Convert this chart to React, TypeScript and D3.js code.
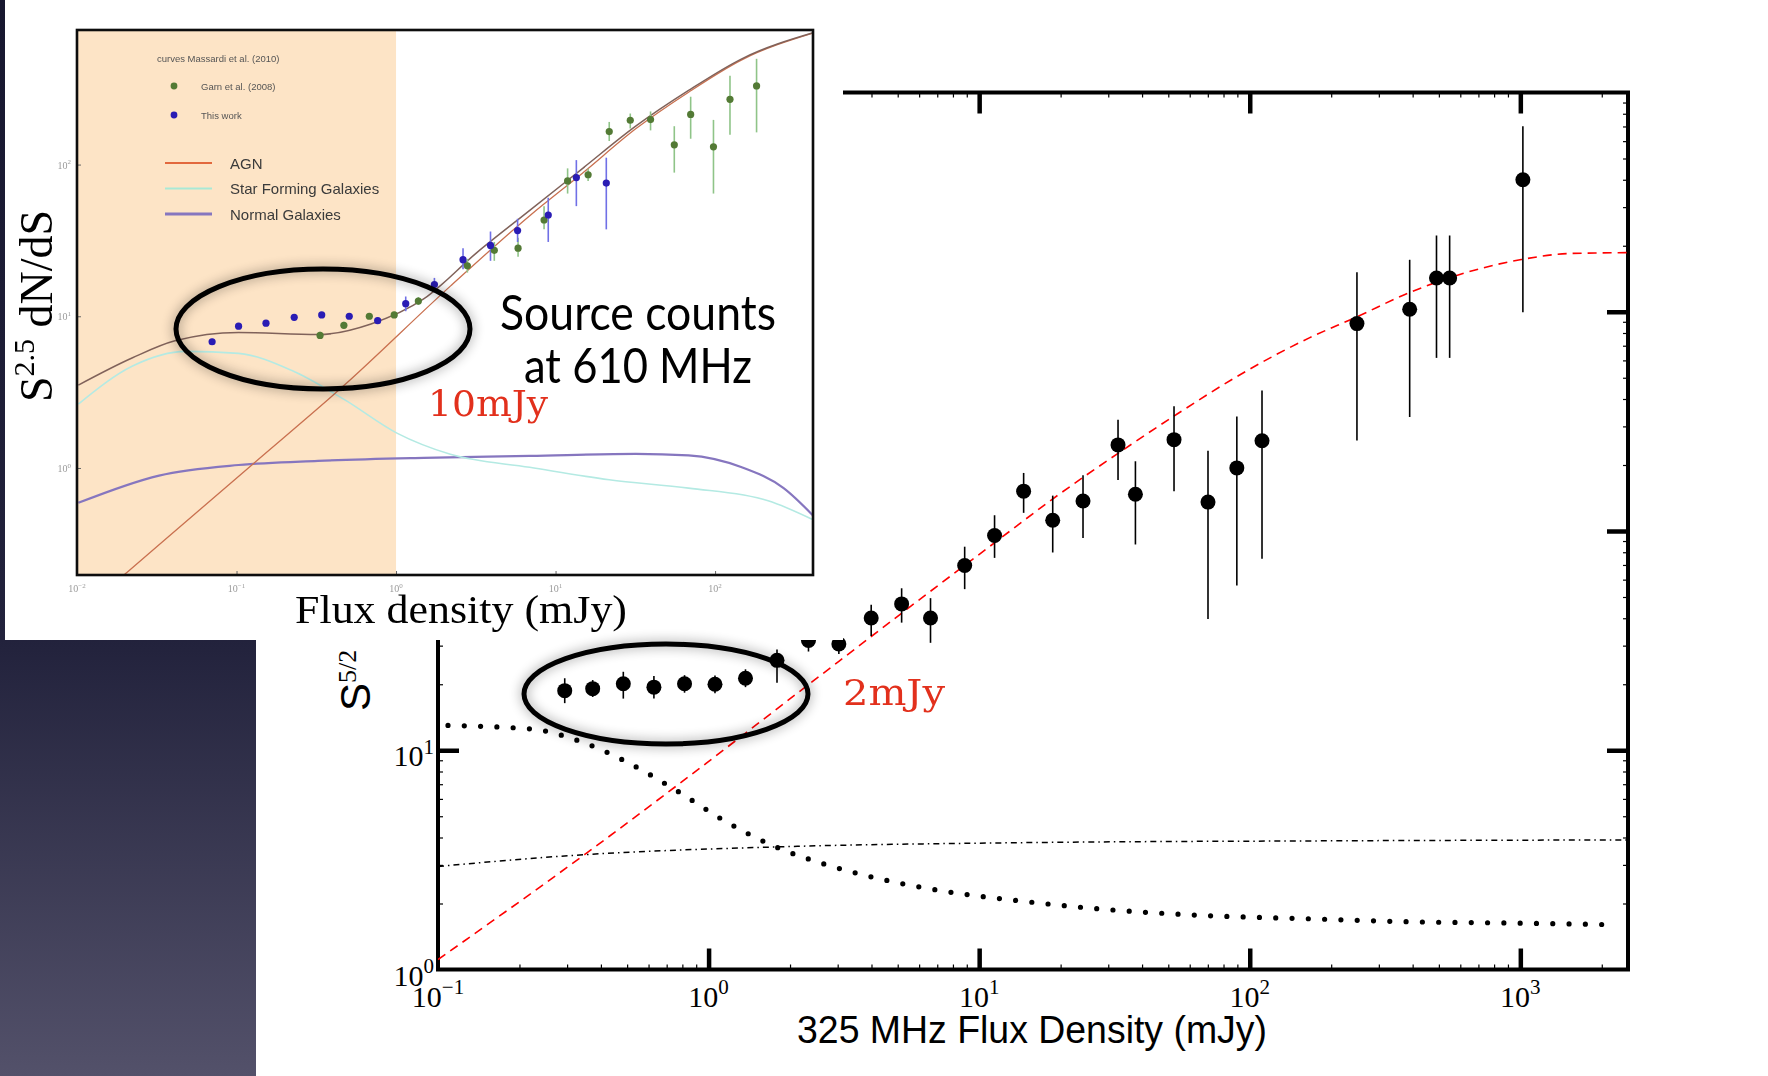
import React, { useEffect, useRef } from "react";
import * as d3 from "d3";

// ---- main panel: 325 MHz source counts (S^5/2 dN/dS) ----
const mainFlux = [0.294, 0.373, 0.484, 0.628, 0.815, 1.056, 1.369, 1.79, 2.34, 3.03, 3.99, 5.17, 6.61, 8.84, 11.4, 14.6, 18.7, 24.2, 32.6, 37.8, 52.5, 70.1, 89.6, 111, 249, 390, 490, 548, 1022];
const mainCounts = [18.7, 19.1, 20.1, 19.4, 20.1, 20.0, 21.3, 25.7, 31.7, 30.5, 40.1, 46.5, 40.1, 69.6, 95.4, 152, 112, 137, 247, 147, 261, 135.5, 194, 258, 883, 1027, 1425, 1425, 4000];
const mainErrLo = [16.4, 17.5, 17.2, 17.2, 18.3, 18.2, 19.4, 20.3, 28.2, 27.5, 33.2, 38.2, 30.9, 54.3, 75.4, 121, 79.8, 93, 171, 86.8, 152, 39.7, 56.4, 74.7, 259, 331, 616, 616, 996];
const mainErrHi = [21.3, 20.9, 22.8, 21.8, 22.0, 21.9, 23.4, 28.8, 35.5, 34.0, 46.1, 54.8, 49.4, 84.8, 118, 184, 145, 179.5, 322, 208, 371, 232, 333, 437, 1515, 1726, 2225, 2225, 7020];

// model curves in the main panel
const redFlux = [0.1, 0.35, 0.76, 2.3, 5.5, 11.9, 18.4, 32.6, 53, 95.5, 166, 249, 382, 523, 1009, 1528, 2500];
const redCounts = [1.11, 3.36, 6.87, 19.6, 44.7, 92, 138, 226, 337, 530, 760, 948, 1211, 1403, 1730, 1844, 1860];
const dotFlux = [0.1, 0.221, 0.334, 0.496, 0.748, 1.148, 1.73, 2.62, 4.02, 7.03, 13.9, 27.8, 63.4, 175, 398, 907, 2244];
const dotCounts = [13.0, 12.5, 11.0, 8.87, 6.64, 4.76, 3.67, 3.05, 2.64, 2.3, 2.06, 1.89, 1.77, 1.7, 1.65, 1.63, 1.6];
const dashFlux = [0.1, 0.334, 1.73, 14.8, 175, 2500];
const dashCounts = [2.95, 3.33, 3.62, 3.79, 3.86, 3.9];

const mainXTicks = [0.1, 1, 10, 100, 1000];
const mainXExp = ["\u22121", "0", "1", "2", "3"];
const mainYTicks = [1, 10, 100, 1000, 10000];
const mainYExp = ["0", "1", "2", "3", "4"];

// ---- inset: 610 MHz counts ----
const insetTotalFlux = [0.0102, 0.0223, 0.0411, 0.103, 0.324, 0.697, 1.49, 3.21, 6.89, 14.8, 31.8, 68.2, 147, 411];
const insetTotal = [3.52, 5.33, 6.89, 7.82, 7.57, 8.9, 13.0, 26.3, 49.9, 94.5, 179, 308, 498, 739];
const insetAgnFlux = [0.0199, 0.129, 0.475, 2.19, 6.89, 14.8, 31.8, 68.2, 147, 411];
const insetAgn = [0.199, 1.08, 3.52, 15.8, 46, 88, 172, 300, 490, 735];
const insetSfFlux = [0.0102, 0.0223, 0.048, 0.103, 0.221, 0.475, 1.02, 2.19, 6.89, 21.7, 68.2, 215, 411];
const insetSf = [2.64, 4.7, 5.87, 5.69, 4.4, 2.82, 1.69, 1.23, 1.01, 0.836, 0.736, 0.608, 0.456];
const insetNormFlux = [0.0102, 0.0327, 0.103, 0.324, 1.49, 6.89, 31.8, 68.2, 147, 269, 411];
const insetNorm = [0.589, 0.891, 1.046, 1.114, 1.166, 1.2, 1.24, 1.21, 1.01, 0.736, 0.486];

const blueFlux = [0.0703, 0.103, 0.153, 0.23, 0.342, 0.509, 0.767, 1.15, 1.74, 2.63, 3.91, 5.78, 9.0, 13.5, 20.8];
const blueCounts = [6.79, 8.61, 9.0, 9.84, 10.2, 10.0, 9.35, 12.1, 16.2, 23.6, 29.3, 36.7, 46.5, 82.1, 75.5];
const blueLo = [6.5, 8.2, 8.6, 9.4, 9.8, 9.6, 8.9, 10.8, 14.4, 20.4, 23.2, 30.9, 30.9, 53.2, 37.4];
const blueHi = [7.1, 9.0, 9.4, 10.3, 10.6, 10.4, 9.8, 13.5, 17.9, 28.1, 36.2, 43.9, 60.4, 107, 111];

const greenFlux = [0.334, 0.471, 0.68, 0.974, 1.38, 2.8, 4.13, 5.82, 8.47, 11.9, 16.0, 21.7, 29.4, 39.4, 55.5, 70.3, 97.7, 124, 182];
const greenCounts = [7.48, 8.72, 10.0, 10.2, 12.6, 21.5, 27.2, 28.1, 43.1, 78, 85.7, 165, 196, 198, 135, 214, 131, 269, 330];
const greenLo = [7.1, 8.3, 9.6, 9.8, 11.9, 19.4, 23.2, 24.7, 37.4, 64.4, 78, 143, 173, 168, 88.5, 148, 64.4, 157, 163];
const greenHi = [7.9, 9.2, 10.5, 10.7, 13.4, 23.9, 30.9, 32.9, 53.2, 94.4, 94, 191, 217, 224, 179, 280, 197, 385, 498];

const insetXTicks = [0.01, 0.1, 1, 10, 100];
const insetXExp = ["\u22122", "\u22121", "0", "1", "2"];
const insetYTicks = [1, 10, 100];
const insetYExp = ["0", "1", "2"];

const legendLines = ["AGN", "Star Forming Galaxies", "Normal Galaxies"];
const legendColors = ["#e2673c", "#a9e9d6", "#8676bf"];

const App = () => {
  const ref = useRef<SVGSVGElement>(null);

  useEffect(() => {
    const W = 1768;
    const H = 1076;
    const svg = d3.select(ref.current);
    svg.selectAll("*").remove();
    const defs = svg.append("defs");

    // slide background gradient
    const bg = defs.append("linearGradient").attr("id", "bg").attr("x1", 0).attr("y1", 0).attr("x2", 0).attr("y2", 1);
    bg.append("stop").attr("offset", 0).attr("stop-color", "#17172f");
    bg.append("stop").attr("offset", 0.595).attr("stop-color", "#22223c");
    bg.append("stop").attr("offset", 1).attr("stop-color", "#53516a");

    const glow = defs.append("filter").attr("id", "glow").attr("x", "-20%").attr("y", "-40%").attr("width", "140%").attr("height", "180%");
    glow.append("feDropShadow").attr("dx", 0).attr("dy", 0).attr("stdDeviation", 6).attr("flood-color", "#000").attr("flood-opacity", 0.45);
    const soft = defs.append("filter").attr("id", "soft");
    soft.append("feGaussianBlur").attr("stdDeviation", 0.6);

    svg.append("rect").attr("width", W).attr("height", H).attr("fill", "url(#bg)");
    svg.append("rect").attr("x", 256).attr("y", 0).attr("width", W - 256).attr("height", H).attr("fill", "#fff");

    // ================= main chart =================
    const m = { left: 438, right: 1628, top: 92.5, bottom: 969.5 };
    const x = d3.scaleLog().domain([0.1, 2500]).range([m.left, m.right]);
    const y = d3.scaleLog().domain([1, 1e4]).range([m.bottom, m.top]);

    defs.append("clipPath").attr("id", "mainClip").append("rect")
      .attr("x", m.left).attr("y", m.top).attr("width", m.right - m.left).attr("height", m.bottom - m.top);

    const minorX: number[] = [];
    for (let e = -1; e <= 3; e++) for (let k = 2; k <= 9; k++) if (k * 10 ** e <= 2500) minorX.push(k * 10 ** e);
    const minorY: number[] = [];
    for (let e = 0; e <= 3; e++) for (let k = 2; k <= 9; k++) minorY.push(k * 10 ** e);

    const main = svg.append("g");
    const styleAxis = (g, w) => {
      g.select(".domain").remove();
      g.selectAll("text").remove();
      g.selectAll("line").attr("stroke", "#000").attr("stroke-width", w);
    };
    // major + minor ticks on all four sides, pointing inwards
    main.append("g").attr("transform", `translate(0,${m.bottom})`)
      .call(d3.axisBottom(x).tickValues(mainXTicks.slice(1)).tickSize(-21)).call((g) => styleAxis(g, 4.5));
    main.append("g").attr("transform", `translate(0,${m.bottom})`)
      .call(d3.axisBottom(x).tickValues(minorX).tickSize(-5)).call((g) => styleAxis(g, 1.2));
    main.append("g").attr("transform", `translate(0,${m.top})`)
      .call(d3.axisTop(x).tickValues(mainXTicks.slice(1)).tickSize(-21)).call((g) => styleAxis(g, 4.5));
    main.append("g").attr("transform", `translate(0,${m.top})`)
      .call(d3.axisTop(x).tickValues(minorX).tickSize(-5)).call((g) => styleAxis(g, 1.2));
    main.append("g").attr("transform", `translate(${m.left},0)`)
      .call(d3.axisLeft(y).tickValues(mainYTicks.slice(1, 4)).tickSize(-21)).call((g) => styleAxis(g, 4.5));
    main.append("g").attr("transform", `translate(${m.left},0)`)
      .call(d3.axisLeft(y).tickValues(minorY).tickSize(-5)).call((g) => styleAxis(g, 1.2));
    main.append("g").attr("transform", `translate(${m.right},0)`)
      .call(d3.axisRight(y).tickValues(mainYTicks.slice(1, 4)).tickSize(-21)).call((g) => styleAxis(g, 4.5));
    main.append("g").attr("transform", `translate(${m.right},0)`)
      .call(d3.axisRight(y).tickValues(minorY).tickSize(-5)).call((g) => styleAxis(g, 1.2));

    main.append("rect").attr("x", m.left).attr("y", m.top).attr("width", m.right - m.left).attr("height", m.bottom - m.top)
      .attr("fill", "none").attr("stroke", "#000").attr("stroke-width", 4);

    // tick labels 10^n
    const powLabel = (g, px, py, exp, anchor, base, sup, fill, family) => {
      const t = g.append("text").attr("x", px).attr("y", py).attr("text-anchor", anchor)
        .attr("font-family", family).attr("font-size", base).attr("fill", fill);
      t.append("tspan").text("10");
      t.append("tspan").attr("dy", -base * 0.42).attr("font-size", sup).text(exp);
    };
    mainXTicks.forEach((v, i) => powLabel(main, x(v), 1007, mainXExp[i], "middle", 30, 21, "#000", "Liberation Serif"));
    mainYTicks.forEach((v, i) => powLabel(main, 434, y(v) + 16, mainYExp[i], "end", 30, 21, "#000", "Liberation Serif"));

    main.append("text").attr("x", 1032).attr("y", 1043).attr("text-anchor", "middle")
      .attr("font-family", "Liberation Sans").attr("font-size", 38).attr("textLength", 470)
      .attr("lengthAdjust", "spacingAndGlyphs").text("325 MHz Flux Density (mJy)");
    const yl = main.append("text").attr("transform", "translate(370,711) rotate(-90)");
    yl.append("tspan").attr("font-family", "Liberation Sans").attr("font-size", 42).text("S");
    yl.append("tspan").attr("font-family", "Liberation Serif").attr("font-size", 26).attr("dy", -14).text("5/2");

    const plot = main.append("g").attr("clip-path", "url(#mainClip)");
    const line = d3.line<[number, number]>().x((d) => x(d[0])).y((d) => y(d[1])).curve(d3.curveMonotoneX);
    plot.append("path").attr("d", line(dashFlux.map((f, i) => [f, dashCounts[i]])))
      .attr("fill", "none").attr("stroke", "#000").attr("stroke-width", 1.5).attr("stroke-dasharray", "6,4,1.5,4");
    plot.append("path").attr("d", line(dotFlux.map((f, i) => [f, dotCounts[i]])))
      .attr("fill", "none").attr("stroke", "#000").attr("stroke-width", 5.2).attr("stroke-linecap", "round")
      .attr("stroke-dasharray", "0,16.3").attr("stroke-dashoffset", -10);
    plot.append("path").attr("d", line(redFlux.map((f, i) => [f, redCounts[i]])))
      .attr("fill", "none").attr("stroke", "#f00").attr("stroke-width", 1.6).attr("stroke-dasharray", "9,6");

    plot.selectAll("line.err").data(mainFlux).enter().append("line")
      .attr("x1", (d) => x(d)).attr("x2", (d) => x(d))
      .attr("y1", (d, i) => y(mainErrLo[i])).attr("y2", (d, i) => y(mainErrHi[i]))
      .attr("stroke", "#000").attr("stroke-width", 1.6);
    plot.selectAll("circle.pt").data(mainFlux).enter().append("circle")
      .attr("cx", (d) => x(d)).attr("cy", (d, i) => y(mainCounts[i])).attr("r", 7.5).attr("fill", "#000");

    // ================= inset (610 MHz) =================
    const inset = svg.append("g");
    inset.append("rect").attr("x", 5).attr("y", 0).attr("width", 838).attr("height", 640).attr("fill", "#fff");
    const im = { left: 77, right: 813, top: 30, bottom: 575 };
    const ix = d3.scaleLog().domain([0.01, 411]).range([im.left, im.right]);
    const iy = d3.scaleLog().domain([0.197, 771]).range([im.bottom, im.top]);
    defs.append("clipPath").attr("id", "insetClip").append("rect")
      .attr("x", im.left).attr("y", im.top).attr("width", im.right - im.left).attr("height", im.bottom - im.top);

    const ip = inset.append("g").attr("filter", "url(#soft)");
    ip.append("rect").attr("x", im.left).attr("y", im.top).attr("width", ix(1) - im.left).attr("height", im.bottom - im.top)
      .attr("fill", "#fde4c6");

    const ig = ip.append("g").attr("clip-path", "url(#insetClip)");
    const iline = d3.line<[number, number]>().x((d) => ix(d[0])).y((d) => iy(d[1])).curve(d3.curveMonotoneX);
    const curve = (fx, fy, color, w) =>
      ig.append("path").attr("d", iline(fx.map((f, i) => [f, fy[i]]))).attr("fill", "none")
        .attr("stroke", color).attr("stroke-width", w);
    curve(insetNormFlux, insetNorm, "#8676bf", 2.2);
    curve(insetSfFlux, insetSf, "#b4eae3", 1.6);
    curve(insetAgnFlux, insetAgn, "#c9704f", 1.3);
    curve(insetTotalFlux, insetTotal, "#80625a", 1.5);

    ig.selectAll("line.ge").data(greenFlux).enter().append("line")
      .attr("x1", (d) => ix(d)).attr("x2", (d) => ix(d))
      .attr("y1", (d, i) => iy(greenLo[i])).attr("y2", (d, i) => iy(greenHi[i]))
      .attr("stroke", "#8fc488").attr("stroke-width", 1.6);
    ig.selectAll("line.be").data(blueFlux).enter().append("line")
      .attr("x1", (d) => ix(d)).attr("x2", (d) => ix(d))
      .attr("y1", (d, i) => iy(blueLo[i])).attr("y2", (d, i) => iy(blueHi[i]))
      .attr("stroke", "#6f6fe6").attr("stroke-width", 1.6);
    ig.selectAll("circle.gp").data(greenFlux).enter().append("circle")
      .attr("cx", (d) => ix(d)).attr("cy", (d, i) => iy(greenCounts[i])).attr("r", 3.6).attr("fill", "#537a35");
    ig.selectAll("circle.bp").data(blueFlux).enter().append("circle")
      .attr("cx", (d) => ix(d)).attr("cy", (d, i) => iy(blueCounts[i])).attr("r", 3.6).attr("fill", "#2a1cb4");

    // legend
    const lg = ip.append("g").attr("font-family", "Liberation Sans").attr("fill", "#555");
    lg.append("text").attr("x", 157).attr("y", 62).attr("font-size", 9.5).text("curves  Massardi et al. (2010)");
    lg.append("circle").attr("cx", 174).attr("cy", 86).attr("r", 3.4).attr("fill", "#537a35");
    lg.append("text").attr("x", 201).attr("y", 90).attr("font-size", 9.5).text("Garn et al. (2008)");
    lg.append("circle").attr("cx", 174).attr("cy", 115).attr("r", 3.4).attr("fill", "#2a1cb4");
    lg.append("text").attr("x", 201).attr("y", 119).attr("font-size", 9.5).text("This work");
    legendLines.forEach((name, i) => {
      const yy = 163 + i * 25.5;
      lg.append("line").attr("x1", 165).attr("x2", 212).attr("y1", yy).attr("y2", yy)
        .attr("stroke", legendColors[i]).attr("stroke-width", i === 2 ? 3 : 2.2);
      lg.append("text").attr("x", 230).attr("y", yy + 5.5).attr("font-size", 15).attr("fill", "#3a3a3a").text(name);
    });

    // inset frame, ticks and labels
    ip.append("g").attr("transform", `translate(0,${im.bottom})`)
      .call(d3.axisBottom(ix).tickValues(insetXTicks).tickSize(-4)).call((g) => {
        g.select(".domain").remove();
        g.selectAll("text").remove();
        g.selectAll("line").attr("stroke", "#666");
      });
    ip.append("g").attr("transform", `translate(${im.left},0)`)
      .call(d3.axisLeft(iy).tickValues(insetYTicks).tickSize(-4)).call((g) => {
        g.select(".domain").remove();
        g.selectAll("text").remove();
        g.selectAll("line").attr("stroke", "#666");
      });
    ip.append("rect").attr("x", im.left).attr("y", im.top).attr("width", im.right - im.left).attr("height", im.bottom - im.top)
      .attr("fill", "none").attr("stroke", "#111").attr("stroke-width", 2.6);
    insetXTicks.forEach((v, i) => powLabel(ip, ix(v), 592, insetXExp[i], "middle", 10, 7, "#9a9a9a", "Liberation Serif"));
    insetYTicks.forEach((v, i) => powLabel(ip, 71, iy(v) + 4, insetYExp[i], "end", 10, 7, "#9a9a9a", "Liberation Serif"));

    inset.append("text").attr("x", 295).attr("y", 623).attr("font-family", "Liberation Serif").attr("font-size", 40)
      .attr("textLength", 332).attr("lengthAdjust", "spacingAndGlyphs").text("Flux density (mJy)");
    const il = inset.append("text").attr("transform", "translate(52,402) rotate(-90)")
      .attr("font-family", "Liberation Serif").attr("font-size", 46);
    il.append("tspan").text("S");
    il.append("tspan").attr("font-size", 30).attr("dy", -18).text("2.5");
    il.append("tspan").attr("dy", 18).text(" dN/dS");

    // ================= annotations =================
    const ann = svg.append("g");
    ann.append("ellipse").attr("cx", 323).attr("cy", 329).attr("rx", 147).attr("ry", 60)
      .attr("fill", "none").attr("stroke", "#000").attr("stroke-width", 5).attr("filter", "url(#glow)");
    ann.append("ellipse").attr("cx", 666).attr("cy", 694).attr("rx", 142).attr("ry", 50)
      .attr("fill", "none").attr("stroke", "#000").attr("stroke-width", 5).attr("filter", "url(#glow)");
    ann.append("text").attr("x", 500).attr("y", 330).attr("font-family", "Lato").attr("font-size", 48)
      .attr("textLength", 276).attr("lengthAdjust", "spacingAndGlyphs").text("Source counts");
    ann.append("text").attr("x", 524).attr("y", 383).attr("font-family", "Lato").attr("font-size", 48)
      .attr("textLength", 228).attr("lengthAdjust", "spacingAndGlyphs").text("at 610 MHz");
    ann.append("text").attr("x", 428).attr("y", 416).attr("font-family", "DejaVu Serif").attr("font-size", 35)
      .attr("fill", "#e2301c").attr("textLength", 120).attr("lengthAdjust", "spacingAndGlyphs").text("10mJy");
    ann.append("text").attr("x", 843).attr("y", 705).attr("font-family", "DejaVu Serif").attr("font-size", 35)
      .attr("fill", "#e2301c").attr("textLength", 102).attr("lengthAdjust", "spacingAndGlyphs").text("2mJy");
  }, []);

  return (
    <div style={{ position: "absolute", left: 0, top: 0 }}>
      <svg ref={ref} width={1768} height={1076} style={{ display: "block" }} />
    </div>
  );
};

export default App;
